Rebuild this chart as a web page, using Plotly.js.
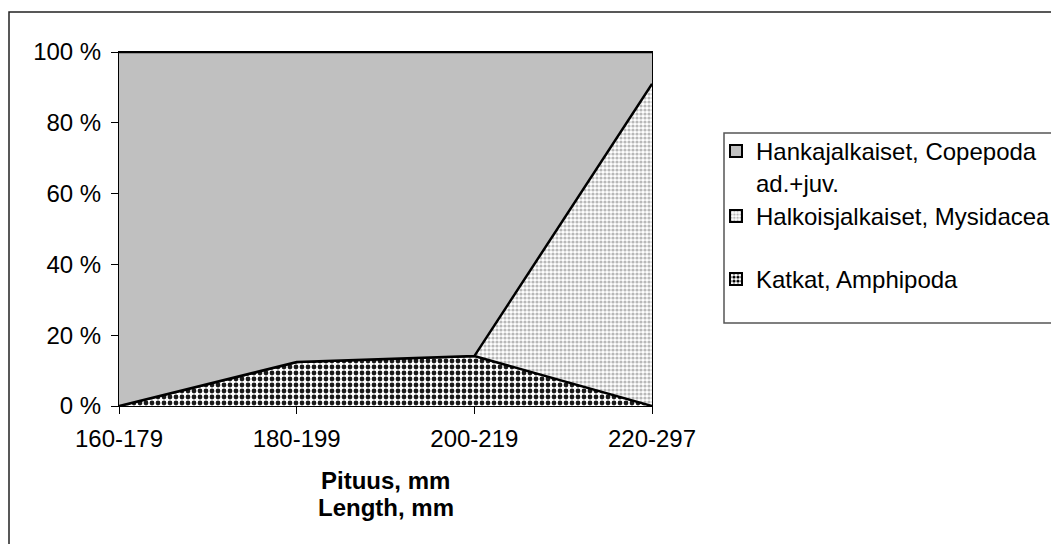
<!DOCTYPE html>
<html>
<head>
<meta charset="utf-8">
<script src="https://cdn.plot.ly/plotly-3.0.1.min.js"></script>
<style>html,body{margin:0;padding:0;background:#fff;}</style>
</head>
<body>
<div id="chart" style="width:1051px;height:544px;"></div>
<script>
const categories = ["160-179", "180-199", "200-219", "220-297"];
const amphipoda = [0, 12.4, 14.1, 0];
const mysidacea = [0, 0, 0, 91];
const copepoda = [100, 87.6, 85.9, 9];
const seriesNames = ["Katkat, Amphipoda", "Halkoisjalkaiset, Mysidacea", "Hankajalkaiset, Copepoda<br>ad.+juv."];
const yTicks = [0, 20, 40, 60, 80, 100];
const xTitleLines = ["Pituus, mm", "Length, mm"];

const FONT = "Liberation Sans, Arial, sans-serif";
const FS = 24;
const L = 119, R = 652, T = 52, B = 406, W = 1051, H = 544;
const px = v => (v - L) / (R - L);
const py = v => (B - v) / (B - T);

const amphPattern = {shape: ".", fgcolor: "#1a1a1a", bgcolor: "#ffffff", size: 6, solidity: 0.5};
const mysPattern = {shape: ".", fgcolor: "#b8b8b8", bgcolor: "#ffffff", size: 4, solidity: 0.5};

const common = {x: categories, type: "scatter", mode: "lines", stackgroup: "one",
  line: {color: "#000", width: 2.5}, hoverinfo: "skip", showlegend: false};

const traces = [
  Object.assign({}, common, {y: amphipoda, name: seriesNames[0], fillcolor: "#ffffff", fillpattern: amphPattern}),
  Object.assign({}, common, {y: mysidacea, name: seriesNames[1], fillcolor: "#ffffff", fillpattern: mysPattern}),
  Object.assign({}, common, {y: copepoda, name: seriesNames[2], fillcolor: "#c0c0c0"}),
  // legend entries (bar symbols show patterned squares)
  {type: "bar", x: [null], y: [null], name: seriesNames[2], legend: "legend",
   marker: {color: "#c0c0c0", line: {color: "#000", width: 2}}},
  {type: "bar", x: [null], y: [null], name: seriesNames[1], legend: "legend2",
   marker: {color: "#ffffff", pattern: mysPattern, line: {color: "#000", width: 2}}},
  {type: "bar", x: [null], y: [null], name: seriesNames[0], legend: "legend3",
   marker: {color: "#ffffff", pattern: {shape: ".", fgcolor: "#000", bgcolor: "#fff", size: 5, solidity: 0.5}, line: {color: "#000", width: 2}}}
];

const legendBase = {x: px(716), xanchor: "left", yanchor: "top", valign: "top",
  font: {family: FONT, size: FS, color: "#000"},
  bgcolor: "rgba(0,0,0,0)", borderwidth: 0, itemwidth: 30};

const layout = {
  width: W, height: H,
  margin: {l: L, r: W - R, t: T, b: H - B, autoexpand: false},
  paper_bgcolor: "#fff", plot_bgcolor: "#fff",
  font: {family: FONT, size: FS, color: "#000"},
  hovermode: false,
  showlegend: true,
  legend: Object.assign({}, legendBase, {y: py(129)}),
  legend2: Object.assign({}, legendBase, {y: py(194)}),
  legend3: Object.assign({}, legendBase, {y: py(257)}),
  xaxis: {type: "category", range: [0, 3], showgrid: false, zeroline: false,
    showline: true, linecolor: "#000", linewidth: 1, mirror: true,
    ticks: "outside", ticklen: 7, tickcolor: "#000", ticklabelstandoff: 4,
    tickfont: {family: FONT, size: FS}},
  yaxis: {range: [0, 100], tickvals: yTicks, ticktext: yTicks.map(v => v + " %"),
    showgrid: false, zeroline: false,
    showline: true, linecolor: "#000", linewidth: 1, mirror: true,
    ticks: "outside", ticklen: 7, tickcolor: "#000", ticklabelstandoff: 5,
    tickfont: {family: FONT, size: FS}},
  annotations: xTitleLines.map((t, i) => ({
    text: "<b>" + t + "</b>", xref: "paper", yref: "paper", x: 0.5, y: py(481 + i * 26),
    xanchor: "center", yanchor: "middle", showarrow: false, font: {family: FONT, size: FS}
  })),
  shapes: [
    {type: "rect", xref: "paper", yref: "paper", x0: px(724), x1: px(1060), y0: py(323), y1: py(133),
     line: {color: "#555", width: 1.5}, fillcolor: "rgba(0,0,0,0)"},
    {type: "rect", xref: "paper", yref: "paper", x0: px(9), x1: px(1060), y0: py(560), y1: py(12),
     line: {color: "#222", width: 1.5}, fillcolor: "rgba(0,0,0,0)"}
  ]
};

Plotly.newPlot("chart", traces, layout, {staticPlot: true, displayModeBar: false});
</script>
</body>
</html>
